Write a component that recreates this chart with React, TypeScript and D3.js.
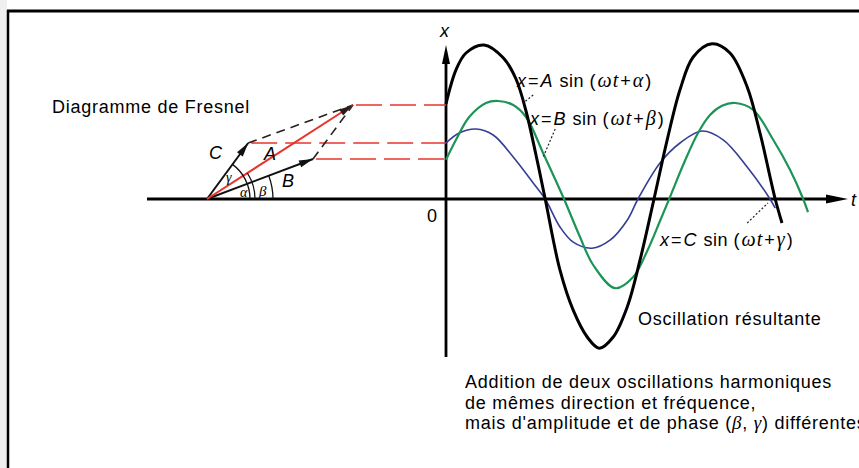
import React, { useEffect, useRef } from 'react';
import * as d3 from 'd3';

type Pt = [number, number];

// oscillation curves, as [t, x] in chart units
const resultant: Pt[] = [
  [0, 2.38], [0.25, 3.23], [0.5, 3.65], [0.95, 3.85], [1.43, 3.53], [1.75, 3.0],
  [2.0, 2.2], [2.25, 1.1], [2.48, 0], [2.85, -1.78], [3.18, -2.78], [3.53, -3.45],
  [3.83, -3.73], [4.18, -3.45], [4.53, -2.7], [4.85, -1.53], [5.2, 0], [5.53, 1.48],
  [5.85, 2.73], [6.18, 3.55], [6.65, 3.88], [7.1, 3.65], [7.53, 2.8], [7.85, 1.65],
  [8.23, 0], [8.4, -0.6],
];

const oscB: Pt[] = [
  [0, 0.98], [0.25, 1.48], [0.58, 2.05], [1.0, 2.4], [1.3, 2.45], [1.68, 2.35],
  [2.0, 2.05], [2.45, 1.1], [2.95, 0], [3.35, -0.95], [3.68, -1.65], [4.23, -2.23],
  [4.68, -1.95], [5.03, -1.3], [5.35, -0.55], [5.6, 0.05], [5.95, 0.9], [6.3, 1.65],
  [6.6, 2.1], [6.9, 2.33], [7.23, 2.4], [7.68, 2.23], [8.18, 1.48], [8.6, 0.73],
  [8.93, 0], [9.05, -0.33],
];

const oscC: Pt[] = [
  [0, 1.4], [0.33, 1.65], [0.75, 1.75], [1.18, 1.6], [1.68, 1.05], [2.18, 0.4],
  [2.48, 0], [2.85, -0.7], [3.18, -1.08], [3.65, -1.23], [4.1, -1.03], [4.53, -0.53],
  [4.8, 0], [5.35, 0.9], [5.85, 1.4], [6.4, 1.7], [6.93, 1.48], [7.53, 0.8],
  [8.1, 0], [8.23, -0.23],
];

// Fresnel vectors, [horizontal, vertical] components in the same units
const vecA: Pt = [3.65, 2.35];
const vecB: Pt = [2.65, 1.0];
const vecC: Pt = [1.03, 1.4];

const captionLines = [
  'Addition de deux oscillations harmoniques',
  'de mêmes direction et fréquence,',
  "mais d'amplitude et de phase (",
];

const SANS = '"Liberation Sans", Arial, Helvetica, sans-serif';
const SERIF = '"Liberation Serif", "Times New Roman", serif';

export default function App() {
  const ref = useRef<SVGSVGElement>(null);

  useEffect(() => {
    const svg = d3.select(ref.current);
    svg.selectAll('*').remove();

    // scales: 40px per unit, origin of the t axis at (446, 199)
    const tx = d3.scaleLinear().domain([0, 10]).range([446, 846]);
    const yx = d3.scaleLinear().domain([-4, 4]).range([359, 39]);
    // Fresnel diagram origin
    const fx = d3.scaleLinear().domain([0, 1]).range([207, 247]);

    // frame
    svg.append('rect').attr('x', 0).attr('y', 0).attr('width', 7).attr('height', 468).attr('fill', '#efefef');
    svg.append('line').attr('x1', 7).attr('x2', 859).attr('y1', 11).attr('y2', 11)
      .attr('stroke', '#000').attr('stroke-width', 3);
    svg.append('line').attr('x1', 8).attr('x2', 8).attr('y1', 10).attr('y2', 468)
      .attr('stroke', '#000').attr('stroke-width', 2.5);

    const tri = (tip: Pt, dir: number, len: number, hw: number, color: string) => {
      const [x, y] = tip;
      const bx = x - len * Math.cos(dir);
      const by = y - len * Math.sin(dir);
      const nx = -Math.sin(dir) * hw;
      const ny = Math.cos(dir) * hw;
      svg.append('path')
        .attr('d', `M${x},${y}L${bx + nx},${by + ny}L${bx - nx},${by - ny}Z`)
        .attr('fill', color);
    };

    // axes
    const y0 = yx(0);
    svg.append('line').attr('x1', fx(-1.5)).attr('x2', tx(9.6)).attr('y1', y0).attr('y2', y0)
      .attr('stroke', '#000').attr('stroke-width', 2.8);
    tri([tx(10.05), y0], 0, 22, 4.5, '#000');
    svg.append('line').attr('x1', tx(0)).attr('x2', tx(0)).attr('y1', yx(-3.95)).attr('y2', yx(3.6))
      .attr('stroke', '#000').attr('stroke-width', 2.8);
    tri([tx(0), yx(3.85)], -Math.PI / 2, 19, 4, '#000');

    // red dashed projections
    const proj = svg.append('g').attr('stroke', '#e8342c').attr('stroke-width', 1.6)
      .attr('stroke-dasharray', '26,8');
    [vecA, vecC, vecB].forEach((v) => {
      proj.append('line').attr('x1', fx(v[0]) + 3).attr('x2', tx(0)).attr('y1', yx(v[1])).attr('y2', yx(v[1]));
    });

    // parallelogram sides
    const par = svg.append('g').attr('stroke', '#222').attr('stroke-width', 1.6)
      .attr('stroke-dasharray', '9,6');
    [vecC, vecB].forEach((v) => {
      par.append('line').attr('x1', fx(v[0])).attr('y1', yx(v[1]))
        .attr('x2', fx(vecA[0])).attr('y2', yx(vecA[1]));
    });

    // vectors
    const drawVec = (v: Pt, color: string, head: string, w: number) => {
      const x2 = fx(v[0]);
      const y2 = yx(v[1]);
      svg.append('line').attr('x1', fx(0)).attr('y1', y0).attr('x2', x2).attr('y2', y2)
        .attr('stroke', color).attr('stroke-width', w);
      const dir = Math.atan2(y2 - y0, x2 - fx(0));
      tri([x2, y2], dir, 14, 3.6, head);
    };
    drawVec(vecB, '#111', '#111', 2);
    drawVec(vecC, '#111', '#111', 2);
    drawVec(vecA, '#e8342c', '#2a1a1a', 2);

    // angle arcs
    const arcs: [Pt, number][] = [[vecC, 43], [vecA, 48], [vecB, 66]];
    arcs.forEach(([v, r]) => {
      const ang = Math.atan2(v[1], v[0]);
      const p = d3.path();
      p.moveTo(fx(0) + r, y0);
      p.arc(fx(0), y0, r, 0, -ang, true);
      svg.append('path').attr('d', p.toString()).attr('fill', 'none')
        .attr('stroke', '#111').attr('stroke-width', 1.3);
    });

    const greek = (x: number, y: number, s: string, size: number) =>
      svg.append('text').attr('x', x).attr('y', y).text(s)
        .style('font-family', SERIF).style('font-style', 'italic').style('font-size', `${size}px`);
    greek(226, 182, 'γ', 14);
    greek(240, 197, 'α', 14);
    greek(259, 196, 'β', 15);

    const label = (x: number, y: number, s: string, italic = false) =>
      svg.append('text').attr('x', x).attr('y', y).text(s)
        .style('font-family', SANS).style('font-size', '18px')
        .style('font-style', italic ? 'italic' : 'normal').style('letter-spacing', '0.75px');

    label(52, 113, 'Diagramme de Fresnel');
    label(209, 159, 'C', true);
    label(264, 160, 'A', true);
    label(282, 187, 'B', true);
    label(440, 37, 'x', true);
    label(427, 222, '0');
    label(851, 206, 't', true);
    label(638, 325, 'Oscillation résultante');

    // curves
    const line = d3.line<Pt>().x((d) => tx(d[0])).y((d) => yx(d[1]))
      .curve(d3.curveCatmullRom.alpha(0.5));
    svg.append('path').attr('d', line(oscC)).attr('fill', 'none')
      .attr('stroke', '#353d94').attr('stroke-width', 1.6);
    svg.append('path').attr('d', line(oscB)).attr('fill', 'none')
      .attr('stroke', '#1d9457').attr('stroke-width', 2.2);
    svg.append('path').attr('d', line(resultant)).attr('fill', 'none')
      .attr('stroke', '#000').attr('stroke-width', 3);

    // formula labels
    const formula = (x: number, y: number, amp: string, phase: string) => {
      const t = svg.append('text').attr('x', x).attr('y', y)
        .style('font-family', SANS).style('font-size', '18px');
      const parts: [string, boolean, string, number][] = [
        ['x', true, SANS, 0], ['=', false, SANS, 1.5], [amp, true, SANS, 1.5],
        [' sin (', false, SANS, 1], ['ω', true, SERIF, 1.5], ['t', true, SERIF, 0.5],
        ['+', false, SANS, 1.5], [phase, true, SERIF, 1.5], [')', false, SANS, 1.5],
      ];
      parts.forEach(([s, it, f, dx]) => {
        t.append('tspan').attr('dx', dx).text(s).style('font-style', it ? 'italic' : 'normal')
          .style('font-family', f).style('font-size', f === SERIF ? '20px' : '18px')
          .style('letter-spacing', '0.5px');
      });
    };
    formula(517, 87, 'A', 'α');
    formula(530, 125, 'B', 'β');
    formula(660, 246, 'C', 'γ');

    // leader dots
    const leaders: [Pt, Pt][] = [
      [[2.18, 2.6], [1.93, 2.4]],
      [[2.73, 1.75], [2.43, 1.05]],
      [[7.53, -0.6], [8.05, -0.1]],
    ];
    leaders.forEach(([a, b]) => {
      svg.append('line').attr('x1', tx(a[0])).attr('y1', yx(a[1])).attr('x2', tx(b[0])).attr('y2', yx(b[1]))
        .attr('stroke', '#222').attr('stroke-width', 1.2).attr('stroke-dasharray', '2,2');
    });

    // caption
    captionLines.forEach((s, i) => {
      const t = label(465, 388 + i * 20.5, s);
      if (i === 2) {
        t.append('tspan').text('β').style('font-family', SERIF).style('font-style', 'italic').style('font-size', '19px');
        t.append('tspan').text(', ');
        t.append('tspan').text('γ').style('font-family', SERIF).style('font-style', 'italic').style('font-size', '19px');
        t.append('tspan').text(') différentes');
      }
    });
  }, []);

  return (
    <div style={{ position: 'fixed', left: 0, top: 0, background: '#fff' }}>
      <svg ref={ref} width={859} height={468} style={{ display: 'block' }} />
    </div>
  );
}
